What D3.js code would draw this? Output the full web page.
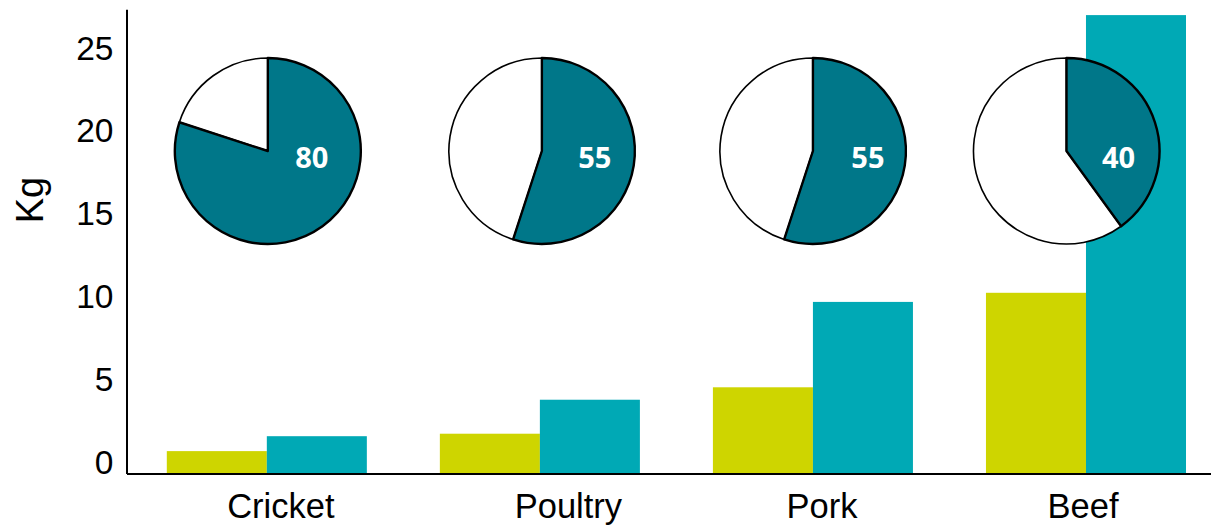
<!DOCTYPE html>
<html>
<head>
<meta charset="utf-8">
<script src="https://cdn.jsdelivr.net/npm/d3@7"></script>
<style>
  html, body { margin: 0; padding: 0; background: #ffffff; }
  svg { display: block; }
</style>
</head>
<body>
<svg id="chart" width="1211" height="527"></svg>
<script>
// ---- data ----
const categories = ["Cricket", "Poultry", "Pork", "Beef"];
const series = ["live", "edible"];
const liveWeightValues = [1.35, 2.4, 5.2, 10.9];
const edibleWeightValues = [2.25, 4.45, 10.35, 27.65];
const ediblePercent = [80, 55, 55, 40];
const yTickValues = [0, 5, 10, 15, 20, 25];
const yLabel = "Kg";

// ---- layout / style ----
const W = 1211, H = 527;
const axisX = 126.5, axisY = 473.5, axisTop = 9.3;
const pieRadius = 93, pieCY = 151;
const pieNudge = [1, 2, 0, -19.5];
const pieLabelDx = [44, 53, 55, 52];
const catLabelNudge = [14, 28.5, 9, -3];
const colors = { live: "#CED500", edible: "#00A9B5", pie: "#007789" };
const font = "'Liberation Sans', Arial, Helvetica, sans-serif";

const svg = d3.select("#chart");
svg.append("rect").attr("width", W).attr("height", H).attr("fill", "#fff");

const y = d3.scaleLinear().domain([0, 28]).range([axisY, axisTop]);
const x0 = d3.scaleBand().domain(categories).range([axisX, 1226.3])
  .paddingInner(0.2674).paddingOuter(0.1476);
const x1 = d3.scaleBand().domain(series).range([0, x0.bandwidth()]).padding(0);

const rows = categories.map((c, i) => ({
  cat: c, i,
  vals: [{ s: "live", v: liveWeightValues[i] }, { s: "edible", v: edibleWeightValues[i] }],
  pct: ediblePercent[i]
}));

// bars
const g = svg.append("g");
g.selectAll("g.grp").data(rows).join("g")
  .attr("class", "grp")
  .attr("transform", d => `translate(${x0(d.cat)},0)`)
  .selectAll("rect").data(d => d.vals).join("rect")
  .attr("x", d => x1(d.s))
  .attr("width", x1.bandwidth())
  .attr("y", d => y(d.v))
  .attr("height", d => y(0) - y(d.v))
  .attr("fill", d => colors[d.s]);

// pies
const pie = d3.pie().sort(null).value(d => d.v);
const arc = d3.arc().innerRadius(0).outerRadius(pieRadius);
const pies = svg.append("g").selectAll("g.pie").data(rows).join("g")
  .attr("class", "pie")
  .attr("transform", d => `translate(${x0(d.cat) + x0.bandwidth() / 2 + pieNudge[d.i]},${pieCY})`);

pies.each(function(d) {
  const sel = d3.select(this);
  const arcs = pie([{ k: "edible", v: d.pct }, { k: "rest", v: 100 - d.pct }]);
  sel.append("path").attr("d", arc(arcs[1]))
    .attr("fill", "#fff").attr("stroke", "#000").attr("stroke-width", 1.6)
    .attr("stroke-linejoin", "round");
  sel.append("path").attr("d", arc(arcs[0]))
    .attr("fill", colors.pie).attr("stroke", "#000").attr("stroke-width", 2.4)
    .attr("stroke-linejoin", "round");
  sel.append("text")
    .attr("x", pieLabelDx[d.i]).attr("y", 5)
    .attr("text-anchor", "middle").attr("dominant-baseline", "central")
    .attr("fill", "#fff").attr("font-family", "'Open Sans', 'Noto Sans', sans-serif")
    .attr("font-weight", 700).attr("font-size", 29)
    .text(d.pct);
});

// y axis
const yAxis = svg.append("g").attr("transform", `translate(${axisX},0)`)
  .call(d3.axisLeft(y).tickValues(yTickValues).tickSize(0).tickSizeOuter(0).tickPadding(13));
yAxis.select(".domain").attr("stroke", "#000").attr("stroke-width", 2);
yAxis.selectAll("text").attr("dy", "0").attr("font-size", 33.5).attr("font-family", font).attr("fill", "#000");

// x axis
const xAxis = svg.append("g").attr("transform", `translate(0,${axisY})`)
  .call(d3.axisBottom(x0).tickSize(0).tickSizeOuter(0));
xAxis.select(".domain").attr("stroke", "#000").attr("stroke-width", 2);
xAxis.selectAll("text")
  .attr("y", 44).attr("dy", "0")
  .attr("x", (d, i) => catLabelNudge[i])
  .attr("font-size", 34.5).attr("font-family", font).attr("fill", "#000");

// y label
svg.append("text")
  .attr("transform", "translate(43,200) rotate(-90)")
  .attr("text-anchor", "middle")
  .attr("font-size", 38).attr("font-family", font).attr("fill", "#000")
  .text(yLabel);
</script>
</body>
</html>
